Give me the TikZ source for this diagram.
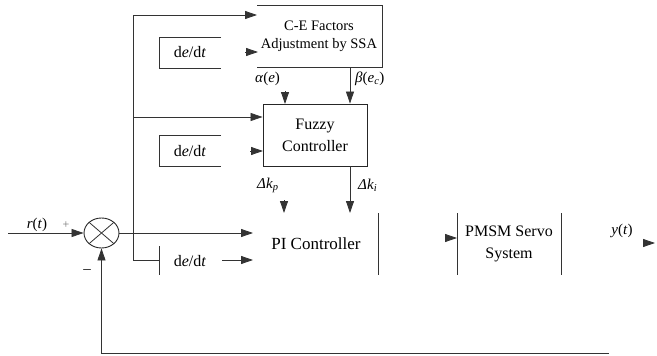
\documentclass[tikz,border=0pt]{standalone}
\usepackage{fontspec}
\setmainfont{Liberation Serif}
\usetikzlibrary{arrows.meta,calc,shapes.geometric}
\begin{document}
\begin{tikzpicture}[x=1pt,y=-1pt,
  wire/.style={draw=black!80, line width=0.8pt},
  arr/.style={wire,-{Triangle[length=12pt,width=8pt]}},
  txt/.style={inner sep=0pt, align=center, font=\fontsize{16}{22}\selectfont},
  small/.style={inner sep=0pt, align=center, font=\fontsize{14.5}{18}\selectfont},
  sig/.style={inner sep=0pt, font=\fontsize{15}{18}\selectfont}]
\useasboundingbox (0,0) rectangle (657,356);

% C-E factor adjustment block (open on the left)
\coordinate (ceTL) at (257,5);
\coordinate (ceTR) at (382,5);
\coordinate (ceBR) at (382,67);
\coordinate (ceBL) at (257,67);
\draw[wire] (ceTL) -- (ceTR) -- (ceBR) -- (ceBL);
\node[small] (ce) at (319,36) {C-E Factors\\Adjustment by SSA};

% fuzzy controller
\node[draw=black!85, line width=0.9pt, minimum width=104pt, minimum height=62pt,
      txt] (fz) at (315,135) {Fuzzy\\Controller};

% derivative blocks
\coordinate (d1a) at (221,37); \coordinate (d1b) at (159,37);
\coordinate (d1c) at (159,68); \coordinate (d1d) at (221,68);
\draw[wire] (d1a) -- (d1b) -- (d1c) -- (d1d);
\node[txt] (d1) at (190,52) {d\textit{e}/d\textit{t}};
\coordinate (d2a) at (221,135); \coordinate (d2b) at (159,135);
\coordinate (d2c) at (159,166); \coordinate (d2d) at (221,166);
\draw[wire] (d2a) -- (d2b) -- (d2c) -- (d2d);
\node[txt] (d2) at (190,151) {d\textit{e}/d\textit{t}};
\coordinate (d3t) at (159,246); \coordinate (d3b) at (159,275);
\draw[wire] (d3t) -- (d3b);
\node[txt] (d3) at (190,261) {d\textit{e}/d\textit{t}};

% summing junction
\node[draw=black!85, line width=0.9pt, ellipse, minimum width=35pt,
      minimum height=30pt, inner sep=0pt] (sum) at (101.5,233) {};
\draw[wire] (sum.north west) -- (sum.south east);
\draw[wire] (sum.north east) -- (sum.south west);

% PI controller and plant
\node[txt, font=\fontsize{17}{22}\selectfont] (pi) at (316,244) {PI Controller};
\coordinate (piT) at (378,213); \coordinate (piB) at (378,275);
\draw[wire] (piT) -- (piB);
\node[txt] (pm) at (509,244) {PMSM Servo\\System};
\coordinate (pmLT) at (457,213); \coordinate (pmLB) at (457,275);
\coordinate (pmRT) at (561,213); \coordinate (pmRB) at (561,275);
\draw[wire] (pmLT) -- (pmLB);
\draw[wire] (pmRT) -- (pmRB);

% signal labels
\node[sig] (rt) at (37,225) {\textit{r}(\textit{t})};
\node[sig, text=black!55, font=\fontsize{12}{14}\selectfont] (plus) at (66,225) {+};
\node[sig] (minus) at (87,272) {–};
\node[sig] (yt) at (622,231) {\textit{y}(\textit{t})};
\node[sig, anchor=west] (al) at (255,79) {\textit{α}(\textit{e})};
\node[sig, anchor=west] (be) at (355,79) {\textit{β}(\textit{e}\textsubscript{\textit{c}})};
\node[sig, anchor=west] (kp) at (257,185) {\textit{Δk}\textsubscript{\textit{p}}};
\node[sig, anchor=west] (ki) at (358,185) {\textit{Δk}\textsubscript{\textit{i}}};

% error branch feeding the upper blocks
\coordinate (topL) at (133,15);
\coordinate (tapF) at (133,117);
\coordinate (tapD) at (133,260);
\draw[arr] (tapD) -- (topL) -- (ceTL |- topL);
\draw[arr] (tapF) -- (fz.west |- tapF);
\draw[wire] (tapD) -- (d3t |- tapD);

% free arrow heads
\coordinate (h1s) at (245,52);  \coordinate (h1e) at (258,52);
\coordinate (h2s) at (250,151); \coordinate (h2e) at (263,151);
\coordinate (h3s) at (285,91);  \coordinate (h3e) at (285,104);
\coordinate (h4s) at (284,200); \coordinate (h4e) at (284,213);
\coordinate (h5s) at (445,238); \coordinate (h5e) at (457,238);
\coordinate (h6s) at (643,243); \coordinate (h6e) at (655,243);
\foreach \s/\e in {h1s/h1e,h2s/h2e,h3s/h3e,h4s/h4e,h5s/h5e,h6s/h6e}
  \draw[arr] (\s) -- (\e);

% scaling factors and gain corrections
\coordinate (bS) at (350,67);
\draw[arr] (bS) -- (bS |- fz.north);
\coordinate (kiE) at (350,213);
\draw[arr] (kiE |- fz.south) -- (kiE);

% main loop
\coordinate (rin) at (8,233);
\draw[arr] (rin) -- (sum.west);
\coordinate (piIn) at (253,233);
\draw[arr] (sum.east) -- (piIn);
\coordinate (dS) at (222,260); \coordinate (dE) at (253,260);
\draw[arr] (dS) -- (dE);
\coordinate (fbR) at (609,353);
\coordinate (fbL) at (101.5,353);
\draw[arr] (fbR) -- (fbL) -- (sum.south);
\end{tikzpicture}
\end{document}
